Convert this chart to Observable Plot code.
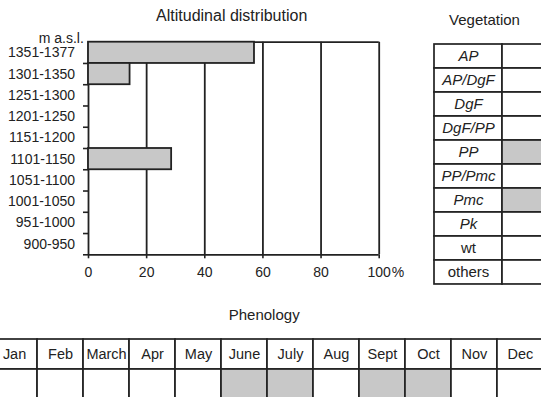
<!DOCTYPE html>
<html><head><meta charset="utf-8">
<script src="https://cdn.jsdelivr.net/npm/d3@7"></script>
<script src="https://cdn.jsdelivr.net/npm/@observablehq/plot@0.6"></script>
<style>
html,body{margin:0;padding:0;background:#fff;overflow:hidden;}
#root{position:relative;width:541px;height:397px;overflow:hidden;font-family:"Liberation Sans",Arial,sans-serif;color:#222;}
.title{position:absolute;width:240px;text-align:center;white-space:nowrap;font-size:15px;line-height:15px;}
.panel{position:absolute;}
.panel svg{max-width:none !important;overflow:visible;}
</style></head><body><div id="root"></div>
<script>
// ---- data ----
const titles = ["Altitudinal distribution", "Vegetation", "Phenology"];
const altitudes = ["1351-1377","1301-1350","1251-1300","1201-1250","1151-1200","1101-1150","1051-1100","1001-1050","951-1000","900-950"];
const altitudePercent = [57.1, 14.3, 0, 0, 0, 28.6, 0, 0, 0, 0];
const percentTicks = [0, 20, 40, 60, 80, 100];
const percentUnit = "%";
const altitudeUnit = "m a.s.l.";
const vegetationTypes = ["AP","AP/DgF","DgF","DgF/PP","PP","PP/Pmc","Pmc","Pk","wt","others"];
const vegetationPresent = [0, 0, 0, 0, 1, 0, 1, 0, 0, 0];
const months = ["Jan","Feb","March","Apr","May","June","July","Aug","Sept","Oct","Nov","Dec"];
const flowering = [0, 0, 0, 0, 0, 1, 1, 0, 1, 1, 0, 0];

// ---- style ----
const ink = "#222";
const grey = "#c8c8c8";
const font = "'Liberation Sans', Arial, sans-serif";
const root = document.getElementById("root");

function place(node, left, top) {
  const d = document.createElement("div");
  d.className = "panel";
  d.style.left = left + "px";
  d.style.top = top + "px";
  d.appendChild(node);
  root.appendChild(d);
}
function title(text, cx, top, size) {
  const d = document.createElement("div");
  d.className = "title";
  d.textContent = text;
  d.style.left = (cx - 120) + "px";
  d.style.top = top + "px";
  d.style.fontSize = size + "px";
  d.style.lineHeight = size + "px";
  root.appendChild(d);
}

// ---- Altitudinal distribution ----
const altRows = altitudes.map((a, i) => ({alt: a, i, pct: altitudePercent[i]})).filter(d => d.pct > 0);
const chartA = Plot.plot({
  width: 420, height: 290,
  marginLeft: 88, marginRight: 41.3, marginTop: 41.7, marginBottom: 35.7,
  style: {fontFamily: font, fontSize: "14px", color: ink, background: "transparent"},
  x: {domain: [0, 100]},
  y: {domain: [0, altitudes.length], reverse: true},
  marks: [
    Plot.ruleX(percentTicks.slice(1), {stroke: ink, strokeWidth: 1.8}),
    Plot.ruleX([0], {stroke: ink, strokeWidth: 1.8}),
    Plot.ruleY([0, altitudes.length], {stroke: ink, strokeWidth: 1.8}),
    Plot.rect(altRows, {x1: () => 0, x2: "pct", y1: "i", y2: d => d.i + 1, fill: grey, stroke: ink, strokeWidth: 1.8}),
    Plot.axisY({ticks: d3.range(1, altitudes.length + 1), tickSize: 5, tickFormat: () => "", label: null, strokeWidth: 1.6}),
    Plot.axisY({ticks: altitudes.map((_, i) => i + 0.5), tickSize: 0, tickPadding: 13.5, tickFormat: v => altitudes[Math.floor(v)], label: null, fontSize: 14}),
    Plot.axisX({ticks: percentTicks, tickSize: 4, tickPadding: 8.4, tickFormat: d => String(d), label: null, fontSize: 14, strokeWidth: 1.6}),
    Plot.text([percentUnit], {x: () => 100, frameAnchor: "bottom", textAnchor: "start", lineAnchor: "top", dx: 12.5, dy: 12.4, fontSize: 14, fill: ink}),
    Plot.text([altitudeUnit], {frameAnchor: "top-left", textAnchor: "end", dx: -4.7, dy: -9.5, fontSize: 14, fill: ink})
  ]
});
place(chartA, 0, 0);

// ---- Vegetation table ----
const vegCells = vegetationTypes.flatMap((t, i) => [
  {t, col: "label", on: 0},
  {t, col: "value", on: vegetationPresent[i]}
]);
const upright = ["wt", "others"];
const chartB = Plot.plot({
  width: 1 + 2 * 68.6, height: 2 + 10 * 24.3,
  marginLeft: 1, marginRight: 0, marginTop: 1, marginBottom: 1,
  style: {fontFamily: font, fontSize: "14px", color: ink, background: "transparent"},
  x: {type: "band", domain: ["label", "value"], padding: 0, axis: null},
  y: {type: "band", domain: vegetationTypes, padding: 0, axis: null},
  color: {type: "identity"},
  marks: [
    Plot.cell(vegCells, {x: "col", y: "t", fill: d => d.on ? grey : "white", stroke: ink, strokeWidth: 1.7, inset: 0}),
    Plot.text(vegetationTypes.filter(t => !upright.includes(t)), {x: () => "label", y: d => d, fontStyle: "italic", fontSize: 15, fill: ink}),
    Plot.text(vegetationTypes.filter(t => upright.includes(t)), {x: () => "label", y: d => d, fontSize: 15, fill: ink})
  ]
});
place(chartB, 431.7, 40.7);

// ---- Phenology table ----
const phenCells = months.flatMap((m, i) => [
  {m, row: "header", on: 0},
  {m, row: "flower", on: flowering[i]}
]);
const chartC = Plot.plot({
  width: 1 + 12 * 46.4, height: 2 + 2 * 30.6,
  marginLeft: 1, marginRight: 0, marginTop: 1, marginBottom: 1,
  style: {fontFamily: font, fontSize: "14px", color: ink, background: "transparent"},
  x: {type: "band", domain: months, padding: 0, axis: null},
  y: {type: "band", domain: ["header", "flower"], padding: 0, axis: null},
  color: {type: "identity"},
  marks: [
    Plot.cell(phenCells, {x: "m", y: "row", fill: d => d.on ? grey : "white", stroke: ink, strokeWidth: 1.7, inset: 0}),
    Plot.text(months, {x: d => d, y: () => "header", fontSize: 14.5, fill: ink})
  ]
});
place(chartC, -11.7, 336.7);

// ---- titles ----
title(titles[0], 231.7, 8.2, 16);
title(titles[1], 484.5, 12.3, 15);
title(titles[2], 264.2, 306.6, 15);
</script></body></html>
